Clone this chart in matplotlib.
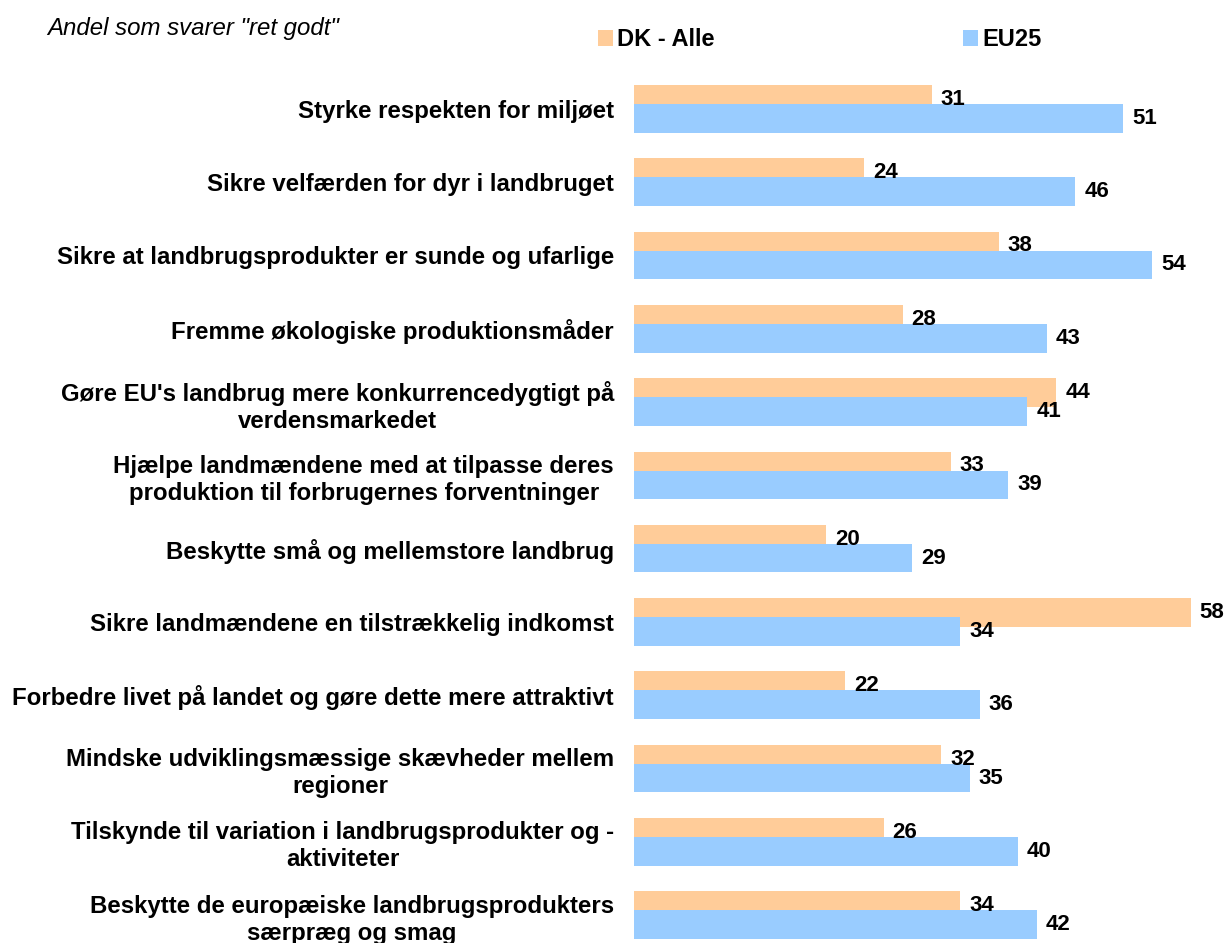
import matplotlib
matplotlib.use("Agg")
import matplotlib.pyplot as plt
import numpy as np

categories = [
    "Styrke respekten for miljøet",
    "Sikre velfærden for dyr i landbruget",
    "Sikre at landbrugsprodukter er sunde og ufarlige",
    "Fremme økologiske produktionsmåder",
    "Gøre EU's landbrug mere konkurrencedygtigt på\nverdensmarkedet",
    "Hjælpe landmændene med at tilpasse deres\nproduktion til forbrugernes forventninger",
    "Beskytte små og mellemstore landbrug",
    "Sikre landmændene en tilstrækkelig indkomst",
    "Forbedre livet på landet og gøre dette mere attraktivt",
    "Mindske udviklingsmæssige skævheder mellem\nregioner",
    "Tilskynde til variation i landbrugsprodukter og -\naktiviteter",
    "Beskytte de europæiske landbrugsprodukters\nsærpræg og smag",
]
dk_values = [31, 24, 38, 28, 44, 33, 20, 58, 22, 32, 26, 34]
eu_values = [51, 46, 54, 43, 41, 39, 29, 34, 36, 35, 40, 42]
series_names = ["DK - Alle", "EU25"]
title_text = 'Andel som svarer "ret godt"'

plt.rcParams["font.family"] = ["Liberation Sans", "DejaVu Sans"]

W, H = 1230, 943
fig = plt.figure(figsize=(W / 100, H / 100), dpi=100)

# axes geometry in pixels
left_px, right_px = 634, 1230
top_px, bottom_px = 72.2, 943
ax = fig.add_axes([left_px / W, 1 - bottom_px / H, (right_px - left_px) / W, (bottom_px - top_px) / H])

y = np.arange(len(categories))
h = 0.39
off = 0.13
dk_col = "#FFCC99"
eu_col = "#99CCFF"
b1 = ax.barh(y - off, dk_values, height=h, color=dk_col, label=series_names[0], zorder=2)
b2 = ax.barh(y + off, eu_values, height=h, color=eu_col, label=series_names[1], zorder=3)

ax.set_xlim(0, 62.1)
ax.set_ylim(11.38, -0.5)
for s in ax.spines.values():
    s.set_visible(False)
ax.set_xticks([])
ax.set_yticks(y)
ax.set_yticklabels(categories, fontsize=17.3, fontweight="bold",
                   multialignment="center", linespacing=1.22)
ax.tick_params(axis="y", length=0, pad=14.4)

vfs = 16
for bars, vals in ((b1, dk_values), (b2, eu_values)):
    for rect, v in zip(bars, vals):
        ax.annotate(str(v), (rect.get_width(), rect.get_y() + rect.get_height() / 2),
                    xytext=(9, 0), textcoords="offset pixels", ha="left", va="center",
                    fontsize=vfs, fontweight="bold", zorder=5, annotation_clip=False)

fig.text(47 / W, 1 - 28 / H, title_text, fontsize=17.3, style="italic",
         ha="left", va="center")

leg = fig.legend(handles=[b1, b2], labels=series_names, ncol=2, frameon=False,
                 loc="center left", bbox_to_anchor=(598 / W, 1 - 40 / H),
                 prop={"size": 17, "weight": "bold"},
                 handlelength=0.64, handleheight=0.68, handletextpad=0.15,
                 columnspacing=10.55, borderaxespad=0, borderpad=0)

fig.savefig("out.png", dpi=100)
